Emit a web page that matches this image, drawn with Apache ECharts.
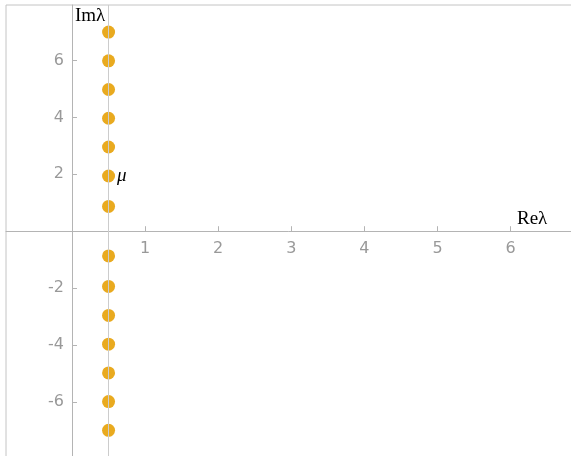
<!DOCTYPE html>
<html>
<head>
<meta charset="utf-8">
<script src="https://cdn.jsdelivr.net/npm/echarts@6/dist/echarts.min.js"></script>
<style>
  html, body { margin: 0; padding: 0; background: #fff; }
  #chart { width: 571px; height: 456px; }
</style>
</head>
<body>
<div id="chart"></div>
<script>
// Eigenvalues λ in the complex plane: all on the line Re λ = 1/2
const reValues = [0.5, 0.5, 0.5, 0.5, 0.5, 0.5, 0.5, 0.5, 0.5, 0.5, 0.5, 0.5, 0.5, 0.5];
const imValues = [7.0, 5.99, 4.98, 3.97, 2.96, 1.94, 0.87, -0.87, -1.94, -2.96, -3.97, -4.98, -5.99, -7.0];
const xTickValues = [1, 2, 3, 4, 5, 6];
const yTickValues = [-6, -4, -2, 2, 4, 6];
const criticalRe = 0.5;
const muIndex = 5;          // point tagged with μ
const xRange = [-0.903, 6.867];
const yRange = [-8.007, 7.951];

const axisGray = '#b4b4b4';
const labelGray = '#999999';
const dotColor = '#E9AA1F';
const tickFont = '"DejaVu Sans", sans-serif';
const mathFont = '"Liberation Serif", "DejaVu Serif", serif';

const GRID = { left: 6, top: 5, right: -3, bottom: -3 };

const points = reValues.map((re, i) => {
  const item = { value: [re, imValues[i]] };
  if (i === muIndex) {
    item.label = {
      show: true,
      formatter: 'μ',
      position: 'right',
      distance: 2,
      color: '#000',
      fontFamily: mathFont,
      fontStyle: 'italic',
      fontSize: 19
    };
  }
  return item;
});

// Axis carrying only the line and ticks (crossing at the origin)
function lineAxis(range, ticks) {
  return {
    type: 'value',
    min: range[0], max: range[1],
    axisLine: { show: true, onZero: true, lineStyle: { color: axisGray, width: 1 } },
    axisTick: { show: true, inside: true, length: 5, customValues: ticks, lineStyle: { color: axisGray } },
    axisLabel: { show: false },
    splitLine: { show: false }
  };
}
// Companion axis carrying only the tick labels, shifted onto the origin lines
function labelAxis(range, ticks, margin) {
  return {
    type: 'value',
    min: range[0], max: range[1],
    offset: 0,
    axisLine: { show: false, onZero: false },
    axisTick: { show: false },
    axisLabel: {
      show: true, customValues: ticks, margin: margin,
      color: labelGray, fontSize: 16, fontFamily: tickFont
    },
    splitLine: { show: false }
  };
}

const chart = echarts.init(document.getElementById('chart'), null, { renderer: 'canvas' });
const option = {
  animation: false,
  backgroundColor: '#fff',
  grid: Object.assign({
    show: true, borderColor: '#c4c4c4', borderWidth: 1,
    containLabel: false, outerBoundsMode: 'none'
  }, GRID),
  xAxis: [lineAxis(xRange, xTickValues), Object.assign(labelAxis(xRange, xTickValues, 10), { position: 'bottom' })],
  yAxis: [lineAxis(yRange, yTickValues), Object.assign(labelAxis(yRange, yTickValues, 8), { position: 'left' })],
  series: [{
    type: 'scatter',
    data: points,
    symbol: 'circle',
    symbolSize: 13,
    itemStyle: { color: dotColor, opacity: 1 },
    markLine: {
      silent: true,
      symbol: ['none', 'none'],
      label: { show: false },
      lineStyle: { color: '#cccccc', width: 1, type: 'solid', opacity: 1 },
      data: [{ xAxis: criticalRe }]
    },
    z: 3
  }],
  graphic: [
    {
      type: 'text', left: 75, top: 7,
      style: { text: 'Imλ', fill: '#000', font: '19px ' + mathFont }
    },
    {
      type: 'text', left: 517, top: 210,
      style: { text: 'Reλ', fill: '#000', font: '19px ' + mathFont }
    }
  ]
};
chart.setOption(option);

// Move the label axes onto the origin
const origin = chart.convertToPixel({ gridIndex: 0 }, [0, 0]);
const gridRect = chart.getModel().getComponent('grid', 0).coordinateSystem.getRect();
chart.setOption({
  xAxis: [{}, { offset: -(gridRect.y + gridRect.height - origin[1]) }],
  yAxis: [{}, { offset: -(origin[0] - gridRect.x) }]
});
</script>
</body>
</html>
